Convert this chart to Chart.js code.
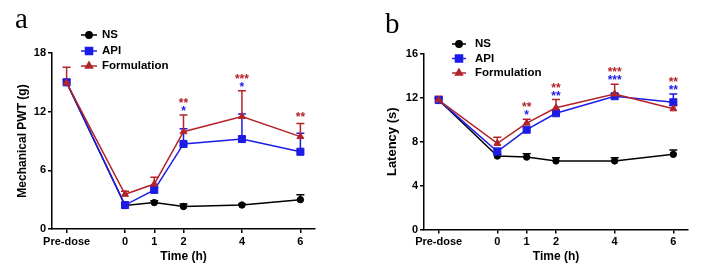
<!DOCTYPE html>
<html>
<head>
<meta charset="utf-8">
<script src="https://cdn.jsdelivr.net/npm/chart.js@4"></script>
<style>
  html, body { margin: 0; padding: 0; background: #fff; }
  #wrap { position: relative; width: 703px; height: 277px; }
  #chartA { position: absolute; left: 0; top: 0; }
  #chartB { position: absolute; left: 355px; top: 0; }
</style>
</head>
<body>
<div id="wrap">
  <canvas id="chartA" width="352" height="277"></canvas>
  <canvas id="chartB" width="348" height="277"></canvas>
</div>
<script>
// time points (Pre-dose drawn at -2 on the time axis)
const timeValues = [-2, 0, 1, 2, 4, 6];
const timeLabels = ['Pre-dose', '0', '1', '2', '4', '6'];
const seriesNames = ['NS', 'API', 'Formulation'];

// panel a: Mechanical PWT (g), mean and upward error
const pwtNS = [15.0, 2.4, 2.7, 2.3, 2.45, 3.0];
const pwtNSErr = [0, 0.15, 0.2, 0.25, 0.1, 0.5];
const pwtAPI = [15.0, 2.45, 4.0, 8.7, 9.2, 7.9];
const pwtAPIErr = [0.3, 0.2, 0.3, 1.55, 2.55, 1.9];
const pwtForm = [14.95, 3.55, 4.6, 9.95, 11.5, 9.45];
const pwtFormErr = [1.6, 0.3, 0.7, 1.7, 2.65, 1.35];
const pwtStarsAPI = ['', '', '', '*', '*', ''];
const pwtStarsForm = ['', '', '', '**', '***', '**'];
const pwtTicks = [0, 6, 12, 18];

// panel b: Latency (s)
const latNS = [11.8, 6.7, 6.6, 6.25, 6.25, 6.85];
const latNSErr = [0.2, 0.15, 0.3, 0.3, 0.3, 0.4];
const latAPI = [11.8, 7.1, 9.1, 10.6, 12.15, 11.6];
const latAPIErr = [0.2, 0.3, 0.2, 0.3, 0.2, 0.75];
const latForm = [11.8, 7.85, 9.7, 11.1, 12.35, 11.0];
const latFormErr = [0.35, 0.55, 0.35, 0.75, 0.9, 0.3];
const latStarsAPI = ['', '', '*', '**', '***', '**'];
const latStarsForm = ['', '', '**', '**', '***', '**'];
const latTicks = [0, 4, 8, 12, 16];

const BLACK = '#000000';
const BLUE = '#1c1ce6';
const RED = '#b3242a';
const FONT = "'Liberation Sans', Arial, sans-serif";

function series(name, values, errs, stars, color, style, radius, order) {
  return {
    label: name,
    data: values.map((v, i) => ({ x: timeValues[i], y: v })),
    errors: errs,
    stars: stars,
    borderColor: color,
    backgroundColor: color,
    borderWidth: 1.5,
    pointStyle: style,
    pointRadius: radius,
    pointBorderWidth: 1,
    tension: 0,
    order: order
  };
}

// upward error bars with caps
const errorBars = {
  id: 'errorBars',
  beforeDatasetsDraw(chart) {
    const { ctx, scales: { x, y } } = chart;
    chart.data.datasets.forEach(ds => {
      ctx.save();
      ctx.strokeStyle = ds.borderColor;
      ctx.lineWidth = 1.5;
      ds.data.forEach((p, i) => {
        const e = ds.errors[i];
        if (!e) return;
        const px = x.getPixelForValue(p.x);
        const y0 = y.getPixelForValue(p.y);
        const y1 = y.getPixelForValue(p.y + e);
        ctx.beginPath();
        ctx.moveTo(px, y0); ctx.lineTo(px, y1);
        ctx.moveTo(px - 4, y1); ctx.lineTo(px + 4, y1);
        ctx.stroke();
      });
      ctx.restore();
    });
  }
};

// significance asterisks above the highest error bar
const starMarks = {
  id: 'starMarks',
  afterDatasetsDraw(chart) {
    const { ctx, scales: { x, y } } = chart;
    const api = chart.data.datasets[1], form = chart.data.datasets[2];
    ctx.save();
    ctx.font = 'bold 12px ' + FONT;
    ctx.textAlign = 'center';
    ctx.textBaseline = 'alphabetic';
    timeValues.forEach((t, i) => {
      const a = api.stars[i], f = form.stars[i];
      if (!a && !f) return;
      const top = Math.min(
        y.getPixelForValue(api.data[i].y + api.errors[i]),
        y.getPixelForValue(form.data[i].y + form.errors[i]));
      const px = x.getPixelForValue(t);
      if (a) {
        ctx.fillStyle = api.borderColor;
        ctx.fillText(a, px, top - 7 + 7);
      }
      if (f) {
        ctx.fillStyle = form.borderColor;
        ctx.fillText(f, px, (a ? top - 15 : top - 9) + 7);
      }
    });
    ctx.restore();
  }
};

function marker(ctx, style, r, x, y) {
  const h = Chart.helpers;
  if (h && h.drawPoint) {
    h.drawPoint(ctx, { pointStyle: style, radius: r, rotation: 0, borderWidth: 1 }, x, y);
    return;
  }
  ctx.beginPath();
  ctx.arc(x, y, r, 0, Math.PI * 2);
  ctx.fill();
}

// panel letter and legend
const panelLegend = {
  id: 'panelLegend',
  afterDraw(chart, args, opts) {
    const ctx = chart.ctx;
    ctx.save();
    ctx.fillStyle = '#000';
    ctx.font = "29px 'Liberation Serif', 'Times New Roman', serif";
    ctx.textBaseline = 'alphabetic';
    ctx.textAlign = 'left';
    ctx.fillText(opts.letter, opts.letterX, opts.letterY);

    ctx.font = 'bold 11.5px ' + FONT;
    ctx.textBaseline = 'middle';
    chart.data.datasets.forEach((ds, i) => {
      const yy = opts.rows[i];
      ctx.strokeStyle = ds.borderColor;
      ctx.fillStyle = ds.borderColor;
      ctx.lineWidth = 1.5;
      ctx.beginPath();
      ctx.moveTo(opts.lineX0, yy); ctx.lineTo(opts.lineX1, yy);
      ctx.stroke();
      marker(ctx, ds.pointStyle, ds.pointRadius, (opts.lineX0 + opts.lineX1) / 2, yy);
      ctx.fillStyle = '#000';
      ctx.fillText(ds.label, opts.textX, yy);
    });
    ctx.restore();
  }
};

function buildChart(id, p) {
  const tickFont = { family: FONT, size: 11, weight: 'bold' };
  return new Chart(document.getElementById(id), {
    type: 'line',
    data: {
      datasets: [
        series(seriesNames[0], p.ns, p.nsErr, [], BLACK, 'circle', 3.2, 3),
        series(seriesNames[1], p.api, p.apiErr, p.starsApi, BLUE, 'rect', 5, 2),
        series(seriesNames[2], p.form, p.formErr, p.starsForm, RED, 'triangle', 4, 1)
      ]
    },
    options: {
      responsive: false,
      animation: false,
      devicePixelRatio: 1,
      layout: { padding: p.padding },
      plugins: {
        legend: { display: false },
        tooltip: { enabled: false },
        panelLegend: p.legend
      },
      scales: {
        x: {
          type: 'linear',
          min: -2.5,
          max: 6.5,
          afterBuildTicks: s => { s.ticks = timeValues.map(v => ({ value: v })); },
          afterFit: s => { s.height = p.xHeight; },
          ticks: {
            autoSkip: false,
            maxRotation: 0,
            padding: 2,
            color: '#000',
            font: tickFont,
            callback: v => timeLabels[timeValues.indexOf(v)]
          },
          grid: { drawOnChartArea: false, tickLength: 4, color: '#000', lineWidth: 1.5 },
          border: { color: '#000', width: 1.5 },
          title: {
            display: true,
            text: 'Time (h)',
            color: '#000',
            font: { family: FONT, size: 12, weight: 'bold' },
            padding: { top: 0, bottom: 13 }
          }
        },
        y: {
          min: 0,
          max: p.yTicks[p.yTicks.length - 1],
          afterBuildTicks: s => { s.ticks = p.yTicks.map(v => ({ value: v })); },
          afterFit: s => { s.width = p.yWidth; },
          ticks: { padding: 2, color: '#000', font: tickFont },
          grid: { drawOnChartArea: false, tickLength: 4, color: '#000', lineWidth: 1.5 },
          border: { color: '#000', width: 1.5 },
          title: {
            display: true,
            text: p.yTitle,
            color: '#000',
            font: { family: FONT, size: p.yTitleSize, weight: 'bold' },
            padding: { top: p.yTitlePad, bottom: 0 }
          }
        }
      }
    },
    plugins: [errorBars, starMarks, panelLegend]
  });
}

buildChart('chartA', {
  ns: pwtNS, nsErr: pwtNSErr, api: pwtAPI, apiErr: pwtAPIErr, form: pwtForm, formErr: pwtFormErr,
  starsApi: pwtStarsAPI, starsForm: pwtStarsForm, yTicks: pwtTicks,
  yTitle: 'Mechanical PWT (g)', yTitleSize: 12, yTitlePad: 15,
  padding: { left: 0, right: 37, top: 53, bottom: 0 },
  xHeight: 48, yWidth: 52,
  legend: { letter: 'a', letterX: 15, letterY: 28, lineX0: 81, lineX1: 97, textX: 102, rows: [35, 51, 66] }
});

buildChart('chartB', {
  ns: latNS, nsErr: latNSErr, api: latAPI, apiErr: latAPIErr, form: latForm, formErr: latFormErr,
  starsApi: latStarsAPI, starsForm: latStarsForm, yTicks: latTicks,
  yTitle: 'Latency (s)', yTitleSize: 13, yTitlePad: 30,
  padding: { left: 0, right: 15, top: 54, bottom: 0 },
  xHeight: 47.5, yWidth: 69,
  legend: { letter: 'b', letterX: 30, letterY: 33, lineX0: 97, lineX1: 111, textX: 120, rows: [44, 58.5, 73] }
});
</script>
</body>
</html>
